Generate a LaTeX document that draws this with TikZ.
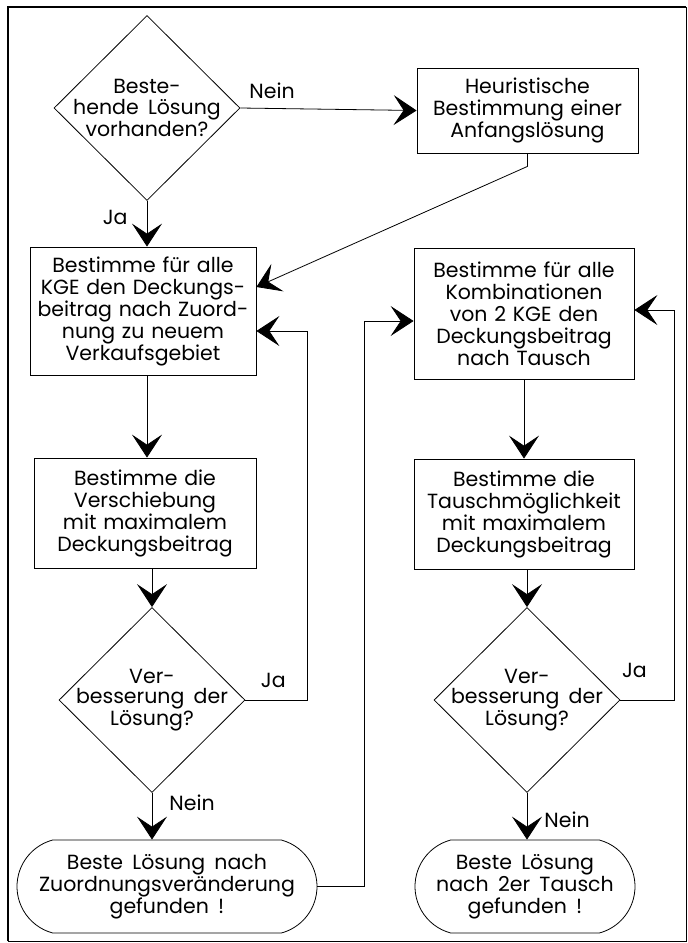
\documentclass[tikz,border=0pt]{standalone}
\usepackage{fontspec}
\setmainfont{Poppins}[WordSpace=1.7]
\usetikzlibrary{arrows.meta,shapes.geometric,shapes.misc}
\begin{document}
\begin{tikzpicture}[x=1pt, y=-1pt,
    every node/.style={font=\fontsize{20.5}{22}\selectfont},
    box/.style={draw, line width=0.8pt, rectangle, inner sep=0pt, align=center},
    decision/.style={draw, line width=0.8pt, diamond, inner sep=0pt, minimum width=186pt, minimum height=185pt},
    dtext/.style={align=center, inner sep=0pt, font=\fontsize{20.5}{20.5}\selectfont},
    terminal/.style={draw, line width=0.8pt, rounded rectangle, rounded rectangle arc length=150, inner sep=0pt, align=center, minimum height=93pt},
    flow/.style={line width=0.8pt, -{Stealth[length=23pt, width=30pt, inset=10pt]}},
    lbl/.style={inner sep=0pt}]
  \useasboundingbox (0,0) rectangle (688,943);
  \draw[line width=1pt] (8,7) rectangle (686,941);
  \draw[line width=2.5pt] (8,941) -- (8,7) -- (686,7);

  \node[decision] (d1) at (147,108) {};
  \node[dtext] (d1t) at (d1) {Beste-\\hende Lösung\\vorhanden?};
  \node[box, text width=221pt, minimum height=85pt] (hr) at (527.5,110.5) {Heuristische\\Bestimmung einer\\Anfangslösung};

  \node[box, text width=226pt, minimum height=128pt] (bx2) at (143,311) {Bestimme für alle\\KGE den Deckungs-\\beitrag nach Zuord-\\nung zu neuem\\Verkaufsgebiet};
  \node[box, text width=220pt, minimum height=131pt] (bx3) at (524,313.5) {Bestimme für alle\\Kombinationen\\von 2 KGE den\\Deckungsbeitrag\\nach Tausch};

  \node[box, text width=222pt, minimum height=110pt] (bx4) at (145,513) {Bestimme die\\Verschiebung\\mit maximalem\\Deckungsbeitrag};
  \node[box, text width=220pt, minimum height=110pt] (bx5) at (524,514) {Bestimme die\\Tauschmöglichkeit\\mit maximalem\\Deckungsbeitrag};

  \node[decision] (d2) at (152,700) {};
  \node[dtext] (d2t) at (d2) {Ver-\\besserung der\\Lösung?};
  \node[decision] (d3) at (527,700) {};
  \node[dtext] (d3t) at (d3) {Ver-\\besserung der\\Lösung?};

  \node[terminal, minimum width=300pt] (t1) at (167,886.5) {Beste Lösung nach\\Zuordnungsveränderung\\gefunden !};
  \node[terminal, minimum width=220pt] (t2) at (525,886.5) {Beste Lösung\\nach 2er Tausch\\gefunden !};

  \draw[flow] (d1.east) -- node[lbl, pos=0.18, above=9pt] {Nein} (hr.west);
  \draw[flow] (d1.south) -- node[lbl, pos=0.36, left=19pt] {Ja} (d1.south |- bx2.north);
  \draw[flow] (hr.south) -- ++(0,13) -- ([yshift=24pt]bx2.east);
  \draw[flow] (bx2.south -| d1) -- (d1 |- bx4.north);
  \draw[flow] (bx4.south -| d2) -- (d2.north);
  \draw[flow] (d2.east) -- node[lbl, pos=0.45, above=12pt] {Ja} ++(62,0) |- ([yshift=-20pt]bx2.east);
  \draw[flow] (d2.south) -- node[lbl, pos=0.21, right=17pt] {Nein} (d2.south |- t1.north);
  \draw[flow] (t1.east) -- ++(47,0) |- ([yshift=-7.5pt]bx3.west);
  \draw[flow] (bx3.south) -- (bx3.south |- bx5.north);
  \draw[flow] (bx5.south -| d3) -- (d3.north);
  \draw[flow] (d3.east) -- node[lbl, pos=0.26, above=22pt] {Ja} ++(54,0) |- ([yshift=3.5pt]bx3.east);
  \draw[flow] (d3.south) -- node[lbl, pos=0.57, right=17pt] {Nein} (d3.south |- t2.north);
\end{tikzpicture}
\end{document}
